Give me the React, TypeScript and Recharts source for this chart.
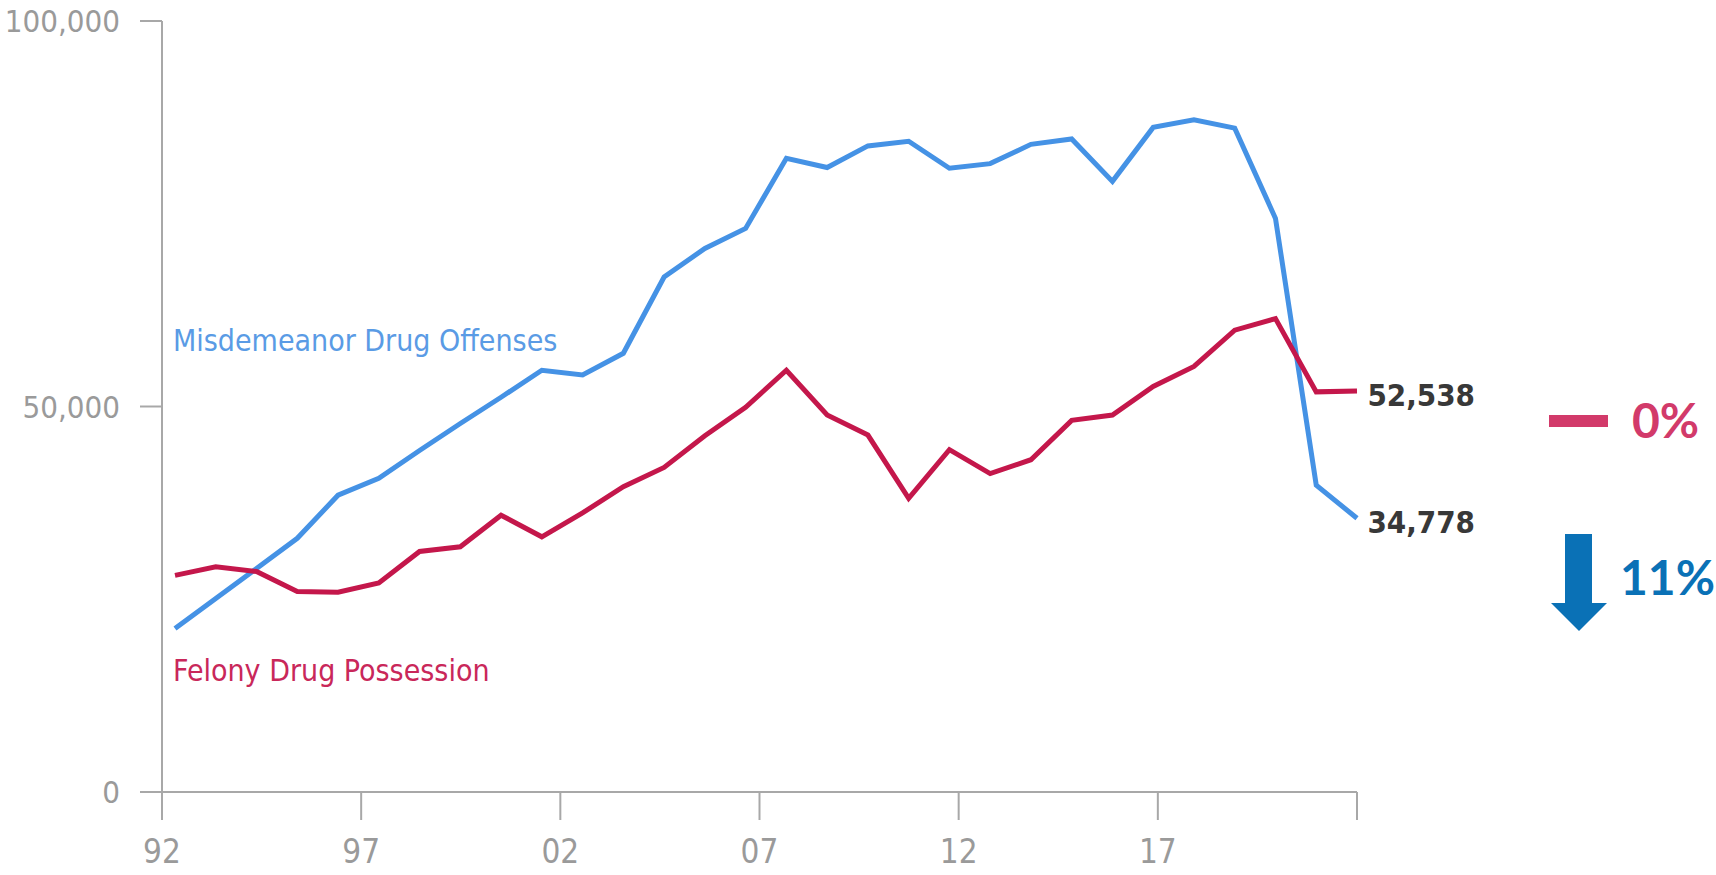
import { LineChart, Line, XAxis, YAxis, LabelList } from 'recharts';

const YEARS = [
  1993, 1994, 1995, 1996, 1997, 1998, 1999, 2000, 2001, 2002,
  2003, 2004, 2005, 2006, 2007, 2008, 2009, 2010, 2011, 2012,
  2013, 2014, 2015, 2016, 2017, 2018, 2019, 2020, 2021, 2022,
];

// Misdemeanor drug offenses (blue)
const MISDEMEANOR = [
  21200, 25100, 29000, 32900, 38500, 40700, 44300, 47800, 51200, 54700,
  54100, 56900, 66800, 70500, 73100, 82200, 81000, 83800, 84400, 80900,
  81500, 84000, 84700, 79200, 86200, 87200, 86100, 74400, 39800, 35500,
];

// Felony drug possession (red)
const FELONY = [
  28100, 29200, 28600, 26000, 25900, 27100, 31200, 31800, 35900, 33100,
  36200, 39600, 42100, 46200, 49900, 54700, 48900, 46300, 38100, 44400,
  41300, 43100, 48200, 48900, 52600, 55200, 59900, 61400, 51900, 52000,
];

const X_TICKS = [1992, 1997, 2002, 2007, 2012, 2017, 2022];
const Y_TICKS = [0, 50000, 100000];
const END_LABELS = { felony: '52,538', misdemeanor: '34,778' };
const SERIES_NAMES = { misdemeanor: 'Misdemeanor Drug Offenses', felony: 'Felony Drug Possession' };
const CHANGES = { felony: '0%', misdemeanor: '11%' };

const BLUE = '#4592e5';
const RED = '#c4174b';
const AXIS = '#a8a8a8';
const COND = "'DejaVu Sans Condensed', 'DejaVu Sans', sans-serif";
const CALLOUT = "Lato, 'Open Sans', sans-serif";

const data = YEARS.map((year, i) => ({
  year,
  misdemeanor: MISDEMEANOR[i],
  felony: FELONY[i],
}));

const lastIndex = YEARS.length - 1;

function endLabel(text: string) {
  return (props: any) => {
    if (props.index !== lastIndex) return null;
    return (
      <text
        x={props.x + 118}
        y={props.y + 15}
        textAnchor="end"
        fontFamily={COND}
        fontWeight="bold"
        fontSize={31}
        fill="#383838"
      >
        {text}
      </text>
    );
  };
}

export default function App() {
  return (
    <div style={{ position: 'absolute', left: 0, top: 0, width: 1716, height: 875, background: '#fff' }}>
      <LineChart
        width={1716}
        height={875}
        data={data}
        margin={{ top: 21, right: 359, bottom: 0, left: 0 }}
      >
        <XAxis
          xAxisId="axis"
          type="number"
          dataKey="year"
          domain={[1992, 2022]}
          ticks={X_TICKS}
          allowDataOverflow
          height={83}
          tickSize={28}
          tickMargin={20}
          tickFormatter={(y: number) => (y === 2022 ? '' : String(y).slice(2))}
          stroke={AXIS}
          strokeWidth={2}
          tick={{ fill: '#9a9a9a', fontSize: 33, fontFamily: COND }}
        />
        <XAxis
          xAxisId="pts"
          type="number"
          dataKey="year"
          domain={[1993, 2022]}
          padding={{ left: 13, right: 0 }}
          hide
        />
        <YAxis
          width={162}
          domain={[0, 100000]}
          ticks={Y_TICKS}
          tickSize={22}
          tickMargin={20}
          tickFormatter={(v: number) => v.toLocaleString('en-US')}
          stroke={AXIS}
          strokeWidth={2}
          tick={{ fill: '#9a9a9a', fontSize: 31, fontFamily: COND }}
        />
        <Line
          xAxisId="pts"
          type="linear"
          dataKey="misdemeanor"
          stroke={BLUE}
          strokeWidth={5}
          dot={false}
          isAnimationActive={false}
        >
          <LabelList dataKey="misdemeanor" content={endLabel(END_LABELS.misdemeanor)} />
        </Line>
        <Line
          xAxisId="pts"
          type="linear"
          dataKey="felony"
          stroke={RED}
          strokeWidth={5}
          dot={false}
          isAnimationActive={false}
        >
          <LabelList dataKey="felony" content={endLabel(END_LABELS.felony)} />
        </Line>
      </LineChart>

      <svg
        width={1716}
        height={875}
        style={{ position: 'absolute', left: 0, top: 0, pointerEvents: 'none' }}
      >
        <text x={173} y={351} fontFamily={COND} fontSize={30} fill="#5a9be5">
          {SERIES_NAMES.misdemeanor}
        </text>
        <text x={173} y={681} fontFamily={COND} fontSize={30} fill="#c9275a">
          {SERIES_NAMES.felony}
        </text>

        <rect x={1549} y={415} width={59} height={12} fill="#d23a6a" />
        <text x={1632} y={438} fontFamily={CALLOUT} fontWeight="bold" fontSize={48} fill="#d23a6a">
          {CHANGES.felony}
        </text>

        <polygon
          points="1565,534 1592,534 1592,603 1607,603 1579,631 1551,603 1565,603"
          fill="#0a71b6"
        />
        <text x={1620} y={595} fontFamily={CALLOUT} fontWeight="bold" fontSize={48} fill="#0a71b6">
          {CHANGES.misdemeanor}
        </text>
      </svg>
    </div>
  );
}
